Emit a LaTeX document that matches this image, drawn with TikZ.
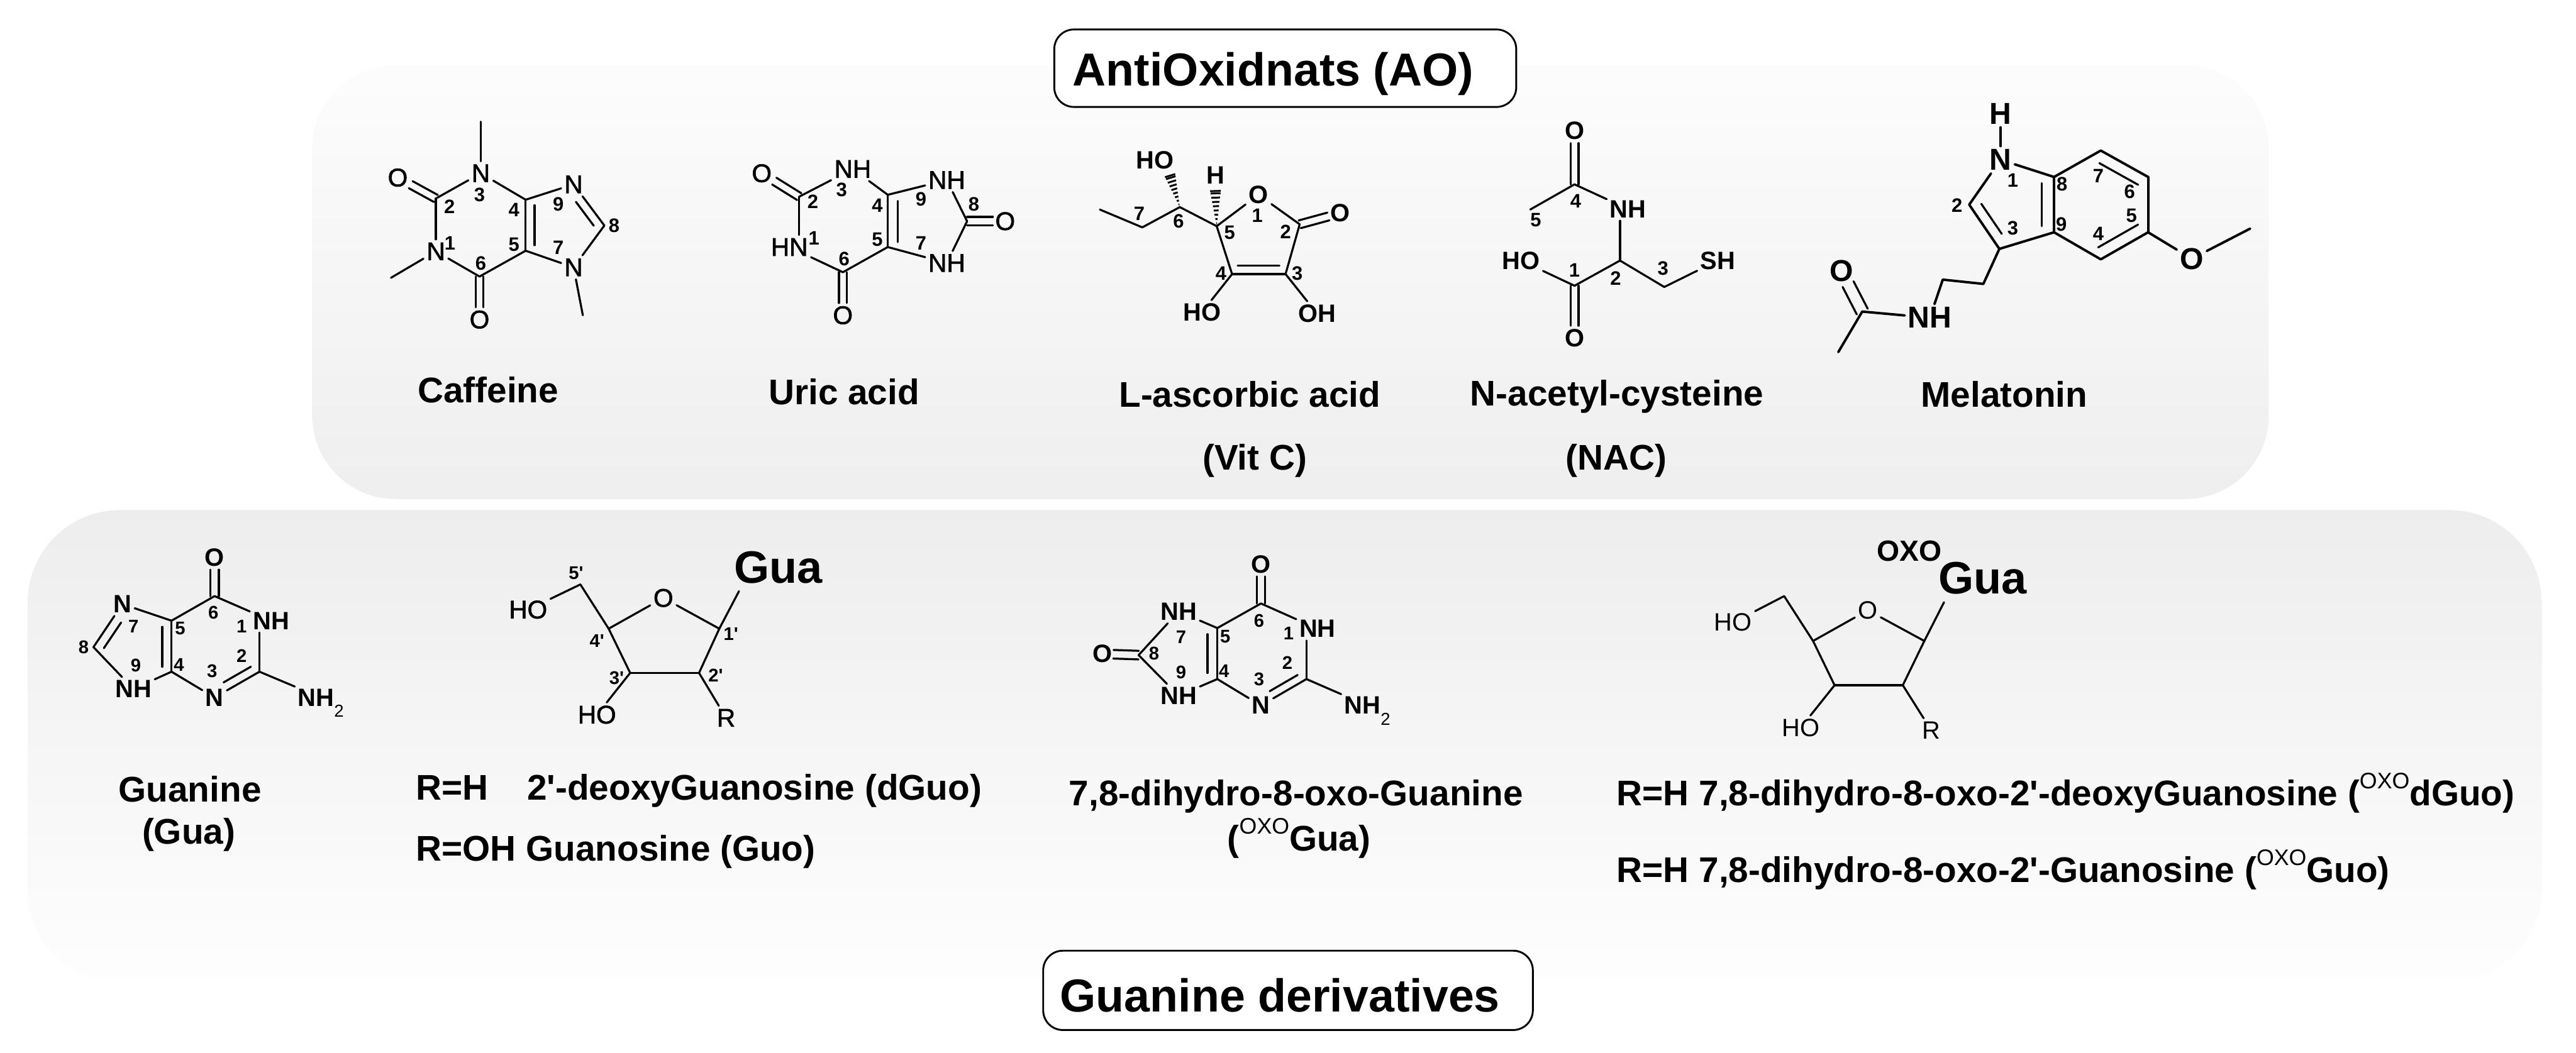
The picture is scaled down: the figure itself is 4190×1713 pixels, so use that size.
\documentclass[tikz,border=0pt]{standalone}
\usepackage{fontspec}
\setmainfont{Liberation Sans}[Ligatures=TeXOff]
\newfontfamily\medfont{Liberation Sans}[Ligatures=TeXOff,FakeBold=1.6]
\usetikzlibrary{calc}
\newcommand{\inb}[5]{\draw[bond] ($(#1)!#4!(#2)!#3!90:(#2)$) -- ($(#2)!#5!(#1)!#3!-90:(#1)$);}
\newcommand{\dblb}[4]{%
  \draw[bond] ($(#1)!0cm!(#2)!#3!90:(#2)$) -- ($(#2)!#4!(#1)!#3!-90:(#1)$);
  \draw[bond] ($(#1)!0cm!(#2)!#3!-90:(#2)$) -- ($(#2)!#4!(#1)!#3!90:(#1)$);}
\newcommand{\hashw}[2]{%
  \foreach \t in {0.08,0.2,0.32,0.44,0.56,0.68,0.8,0.92,0.985}{%
    \pgfmathsetmacro{\hw}{\t*2.5}
    \draw[hashline] ($(#1)!\t!(#2)!\hw pt!90:(#2)$) -- ($(#1)!\t!(#2)!\hw pt!-90:(#2)$);}}
\newcommand{\oxo}{\raisebox{2.75mm}[0pt][0pt]{\fontsize{10.4pt}{11pt}\mdseries\selectfont OXO}}
\newcommand{\subtwo}{\raisebox{-1.8mm}[0pt][0pt]{\fontsize{8pt}{8pt}\mdseries\selectfont 2}}
\tikzset{
  bond/.style={line width=0.033cm,line cap=round,black},
  bondm/.style={line width=0.04cm,line cap=round,black},
  hashline/.style={line width=0.03cm,black},
  atom/.style={font=\bfseries\fontsize{11.6pt}{12pt}\selectfont,inner sep=1.5pt,outer sep=0pt},
  atomm/.style={font=\medfont\fontsize{11.8pt}{12pt}\selectfont,inner sep=1.5pt,outer sep=0pt},
  atomr/.style={font=\fontsize{11.6pt}{12pt}\selectfont,inner sep=1.5pt,outer sep=0pt},
  atoml/.style={font=\bfseries\fontsize{14pt}{15pt}\selectfont,inner sep=1.5pt,outer sep=0pt},
  num/.style={font=\bfseries\fontsize{9pt}{10pt}\selectfont,inner sep=0pt},
  nums/.style={font=\bfseries\fontsize{8.5pt}{9pt}\selectfont,inner sep=0pt},
  gua/.style={font=\bfseries\fontsize{21pt}{22pt}\selectfont,inner sep=0pt},
  oxol/.style={font=\bfseries\fontsize{13.5pt}{15pt}\selectfont,inner sep=0pt},
  capt/.style={font=\bfseries\fontsize{16.5pt}{18pt}\selectfont,inner sep=0pt,text height=14.4pt,text depth=2pt},
  titlebox/.style={draw=black,line width=0.03cm,fill=white,rounded corners=0.32cm},
  titletext/.style={font=\bfseries\fontsize{21.4pt}{24pt}\selectfont,inner sep=0pt,text height=16pt,text depth=3pt},
}
\begin{document}
\begin{tikzpicture}[x=0.01cm,y=-0.01cm]
\useasboundingbox (0,0) rectangle (4190,1713);
% panels
\path[rounded corners=1.35cm,top color=black!1,bottom color=black!6.5] (508,106) rectangle (3690,812);
\path[rounded corners=1.5cm,top color=black!7,bottom color=black!0.5] (45,830) rectangle (4134,1598);
\node[titlebox,minimum width=7.51cm,minimum height=1.26cm] (aobox) at (2090.5,111) {};
\node[titlebox,minimum width=7.96cm,minimum height=1.29cm] (gdbox) at (2095,1611.5) {};
\node[titletext] (aotitle) at (2071,117) {AntiOxidnats (AO)};
\node[titletext] (gdtitle) at (2082,1624) {Guanine derivatives};

% ---------- Caffeine
\foreach \n/\x/\y in {cc2/709/323,cc4/855/325,cc5/855/408,cc6/780/450,cc8/983/367,cm3/782/198,cm1/636/452,cm7/948/513}
  \coordinate (\n) at (\x,\y);
\foreach \n/\x/\y/\t in {cn3/782/282/N,cn1/709/409/N,cn9/933/300/N,cn7/933/435/N,co2/647/289/O,co6/780/520/O}
  \node[atomm] (\n) at (\x,\y) {\t};
\foreach \a/\b in {cc2/cn3,cn3/cc4,cc4/cc5,cc5/cc6,cc6/cn1,cn1/cc2,cc4/cn9,cn9/cc8,cc8/cn7,cn7/cc5,cn3/cm3,cn1/cm1,cn7/cm7}
  \draw[bond] (\a) -- (\b);
\inb{cc4}{cc5}{.145cm}{.09cm}{.09cm}
\inb{cc8}{cn9}{.14cm}{.1cm}{.25cm}
\dblb{cc2}{co2}{.065cm}{.24cm}
\dblb{cc6}{co6}{.065cm}{.2cm}
\foreach \n/\x/\y in {1/732/396,2/731/336,3/780/317,4/836/342,5/836/398,6/782/428,7/908/403,8/999/367,9/908/332}
  \node[num] (cl\n) at (\x,\y) {\n};
\node[capt] (capcaf) at (794,633) {Caffeine};

% ---------- Uric acid
\foreach \n/\x/\y in {uc2/1300/320,uc4/1444/317,uc5/1444/402,uc6/1371/443,uc8/1573/360}
  \coordinate (\n) at (\x,\y);
\foreach \n/\x/\y/\t in {un3/1387/275/NH,un1/1284/402/HN,un9/1540/293/NH,un7/1540/428/NH,uo2/1239/282/O,uo6/1371/513/O,uo8/1635/360/O}
  \node[atomm] (\n) at (\x,\y) {\t};
\foreach \a/\b in {uc2/un3,un3/uc4,uc4/uc5,uc5/uc6,uc6/un1,uc4/un9,un9/uc8,uc8/un7,un7/uc5}
  \draw[bond] (\a) -- (\b);
\draw[bond] (uc2) -- (un1.north -| uc2);
\inb{uc4}{uc5}{.165cm}{.1cm}{.08cm}
\dblb{uc2}{uo2}{.065cm}{.24cm}
\dblb{uc6}{uo6}{.065cm}{.2cm}
\dblb{uc8}{uo8}{.07cm}{.2cm}
\foreach \n/\x/\y in {1/1324/388,2/1322/328,3/1369/309,4/1427/334,5/1427/390,6/1373/421,7/1498/396,8/1584/332,9/1498/324}
  \node[num] (ul\n) at (\x,\y) {\n};
\node[capt] (capuric) at (1373,636) {Uric acid};

% ---------- L-ascorbic acid
\foreach \n/\x/\y in {ae/1789/341,ac7/1858/370,ac6/1919/337,ac5/1979/368,ac2/2114/365,ac3/2091/446,ac4/2004/446,ahb/1903/285,ahc/1977/310}
  \coordinate (\n) at (\x,\y);
\foreach \n/\x/\y/\t in {ao1/2047/317/O,ao2/2180/347/O,ah4/1955/508/HO,ah3/2142/510/OH,ah6/1879/261/HO,ahh/1977/285/H}
  \node[atom] (\n) at (\x,\y) {\t};
\foreach \a/\b in {ae/ac7,ac7/ac6,ac6/ac5,ac5/ao1,ao1/ac2,ac2/ac3,ac3/ac4,ac4/ac5,ac4/ah4,ac3/ah3}
  \draw[bond] (\a) -- (\b);
\inb{ac4}{ac3}{.14cm}{.09cm}{.1cm}
\dblb{ac2}{ao2}{.065cm}{.2cm}
\hashw{ac6}{ahb}
\hashw{ac5}{ahc}
\foreach \n/\x/\y in {1/2045/351,2/2091/377,3/2110/445,4/1986/445,5/2000/378,6/1917/360,7/1853/348}
  \node[num] (al\n) at (\x,\y) {\n};
\node[capt] (capasc) at (2033,641) {L-ascorbic acid};
\node[capt] (capvit) at (2041,743) {(Vit C)};

% ---------- NAC
\foreach \n/\x/\y in {nc4/2561/300,nc5/2489/341,nc2/2635/424,nc1/2561/465,nc3/2707/467}
  \coordinate (\n) at (\x,\y);
\foreach \n/\x/\y/\t in {no4/2561/213/O,nnh/2648/340/NH,no1/2561/550/O,nho/2474/424/HO,nsh/2794/424/SH}
  \node[atom] (\n) at (\x,\y) {\t};
\foreach \a/\b in {nc4/nc5,nc4/nnh,nc2/nc1,nc1/nho,nc2/nc3,nc3/nsh}
  \draw[bond] (\a) -- (\b);
\draw[bond] (nc2) -- (nnh.south -| nc2);
\dblb{nc4}{no4}{.065cm}{.2cm}
\dblb{nc1}{no1}{.065cm}{.2cm}
\foreach \n/\x/\y in {1/2561/440,2/2628/453,3/2705/437,4/2563/327,5/2498/358}
  \node[num] (nl\n) at (\x,\y) {\n};
\node[capt] (capnac) at (2630,639) {N-acetyl-cysteine};
\node[capt] (capnac2) at (2629,743) {(NAC)};

% ---------- Melatonin
\foreach \n/\x/\y in {mc8/3341/288,mc7/3417/245,mc6/3494/288,mc5/3494/378,mc4/3417/422,mc9/3341/378,mc3/3252/405,mc2/3203/333,mme/3660/372,mca/3226/462,mcb/3160/455,mcc/3029/507,mmf/2990/573}
  \coordinate (\n) at (\x,\y);
\foreach \n/\x/\y/\t in {mh/3254/185/H,mn1/3254/260/N,mo/3565/421/O,mnh/3139/517/NH,mo2/2995/441/O}
  \node[atoml] (\n) at (\x,\y) {\t};
\foreach \a/\b in {mh/mn1,mn1/mc8,mc8/mc7,mc7/mc6,mc6/mc5,mc5/mc4,mc4/mc9,mc9/mc8,mc9/mc3,mc3/mc2,mc2/mn1,mc5/mo,mo/mme,mc3/mca,mca/mcb,mcb/mnh,mnh/mcc,mcc/mmf}
  \draw[bondm] (\a) -- (\b);
\inb{mc9}{mc8}{.2cm}{.1cm}{.1cm}
\inb{mc2}{mc3}{.17cm}{.1cm}{.18cm}
\inb{mc6}{mc7}{.19cm}{.08cm}{.08cm}
\inb{mc4}{mc5}{.19cm}{.06cm}{.08cm}
\dblb{mcc}{mo2}{.1cm}{.24cm}
\foreach \n/\x/\y in {1/3274/293,2/3183/334,3/3274/371,4/3413/380,5/3467/351,6/3464/312,7/3413/286,8/3354/300,9/3353/365}
  \node[num] (ml\n) at (\x,\y) {\n};
\node[capt] (capmel) at (3260,641) {Melatonin};

% ---------- Guanine
\foreach \n/\x/\y in {gc6/349/970,gc5/279/1010,gc4/279/1093,gc8/152/1053,gc2/422/1093}
  \coordinate (\n) at (\x,\y);
\foreach \n/\x/\y/\t in {go/349/907/O,gn7/199/983/N,gn9/217/1121/NH,gn1/441/1010/NH,gn3/349/1135/N,gn2/522/1135/NH\subtwo}
  \node[atom] (\n) at (\x,\y) {\t};
\foreach \a/\b in {gc6/gc5,gc5/gc4,gc6/gn1,gc5/gn7,gn7/gc8,gc8/gn9,gn9/gc4,gc4/gn3,gn3/gc2,gc2/gn2}
  \draw[bond] (\a) -- (\b);
\draw[bond] (gc2) -- (gn1.south -| gc2);
\inb{gc4}{gc5}{.15cm}{.08cm}{.1cm}
\inb{gn7}{gc8}{.15cm}{.26cm}{.08cm}
\inb{gn3}{gc2}{.14cm}{.25cm}{.08cm}
\dblb{gc6}{go}{.07cm}{.2cm}
\foreach \n/\x/\y in {1/393/1019,2/393/1067,3/345/1092,4/291/1082,5/293/1023,6/347/997,7/217/1019,8/136/1053,9/221/1083}
  \node[nums] (gl\n) at (\x,\y) {\n};
\node[capt] (capgua) at (309,1283) {Guanine};
\node[capt] (capgua2) at (307,1352) {(Gua)};

% ---------- dGuo sugar
\foreach \n/\x/\y in {dc5/944/951,dc4/990/1023,dc1/1170/1023,dge/1202/962,dc2/1137/1095,dc3/1025/1095}
  \coordinate (\n) at (\x,\y);
\foreach \n/\x/\y/\t in {dho5/859/992/HO,do/1079/973/O,dho3/971/1163/HO,dr/1181/1168/R}
  \node[atomm] (\n) at (\x,\y) {\t};
\node[gua] (dgua) at (1266,923) {Gua};
\foreach \a/\b in {dc5/dho5,dc5/dc4,dc4/do,do/dc1,dc1/dge,dc1/dc2,dc2/dc3,dc3/dc4,dc3/dho3,dc2/dr}
  \draw[bond] (\a) -- (\b);
\foreach \n/\x/\y in {1/1189/1032,2/1164/1099,3/1003/1103,4/971/1043,5/937/933}
  \node[nums] (dl\n) at (\x,\y) {\n'};
\node[capt,anchor=west] (capd1) at (676,1280) {R=H\hspace{18pt}2'-deoxyGuanosine (dGuo)};
\node[capt,anchor=west] (capd2) at (676,1379) {R=OH Guanosine (Guo)};

% ---------- 8-oxo-guanine
\foreach \n/\x/\y in {oc6/2051/982,oc5/1980/1022,oc4/1980/1105,oc8/1852/1066,oc2/2125/1105}
  \coordinate (\n) at (\x,\y);
\foreach \n/\x/\y/\t in {oo6/2051/918/O,on7/1917/995/NH,oo8/1793/1064/O,on9/1917/1132/NH,on1/2143/1023/NH,on3/2051/1148/N,on2/2224/1148/NH\subtwo}
  \node[atom] (\n) at (\x,\y) {\t};
\foreach \a/\b in {oc6/oc5,oc5/oc4,oc6/on1,oc5/on7,on7/oc8,oc8/on9,on9/oc4,oc4/on3,on3/oc2,oc2/on2}
  \draw[bond] (\a) -- (\b);
\draw[bond] (oc2) -- (on1.south -| oc2);
\inb{oc4}{oc5}{.16cm}{.1cm}{.1cm}
\inb{on3}{oc2}{.13cm}{.24cm}{.09cm}
\dblb{oc6}{oo6}{.07cm}{.2cm}
\dblb{oc8}{oo8}{.07cm}{.18cm}
\foreach \n/\x/\y in {1/2096/1031,2/2094/1079,3/2048/1105,4/1991/1092,5/1993/1036,6/2048/1010,7/1921/1037,8/1877/1063,9/1921/1094}
  \node[nums] (ol\n) at (\x,\y) {\n};
\node[capt] (capo1) at (2108,1289) {7,8-dihydro-8-oxo-Guanine};
\node[capt] (capo2) at (2113,1363) {(\oxo Gua)};

% ---------- oxo sugar
\foreach \n/\x/\y in {sc5/2902/970,sc4/2949/1043,sc1/3130/1043,sge/3162/980,sc2/3095/1115,sc3/2984/1115}
  \coordinate (\n) at (\x,\y);
\foreach \n/\x/\y/\t in {sho5/2819/1013/HO,so/3038/993/O,sho3/2929/1184/HO,sr/3141/1188/R}
  \node[atomr] (\n) at (\x,\y) {\t};
\node[gua] (sgua) at (3225,941) {Gua};
\node[oxol] (soxo) at (3106,897) {OXO};
\foreach \a/\b in {sc5/sho5,sc5/sc4,sc4/so,so/sc1,sc1/sge,sc1/sc2,sc2/sc3,sc3/sc4,sc3/sho3,sc2/sr}
  \draw[bond] (\a) -- (\b);
\node[capt,anchor=west] (caps1) at (2629,1289) {R=H 7,8-dihydro-8-oxo-2'-deoxyGuanosine (\oxo dGuo)};
\node[capt,anchor=west] (caps2) at (2629,1414) {R=H 7,8-dihydro-8-oxo-2'-Guanosine (\oxo Guo)};
\end{tikzpicture}
\end{document}
